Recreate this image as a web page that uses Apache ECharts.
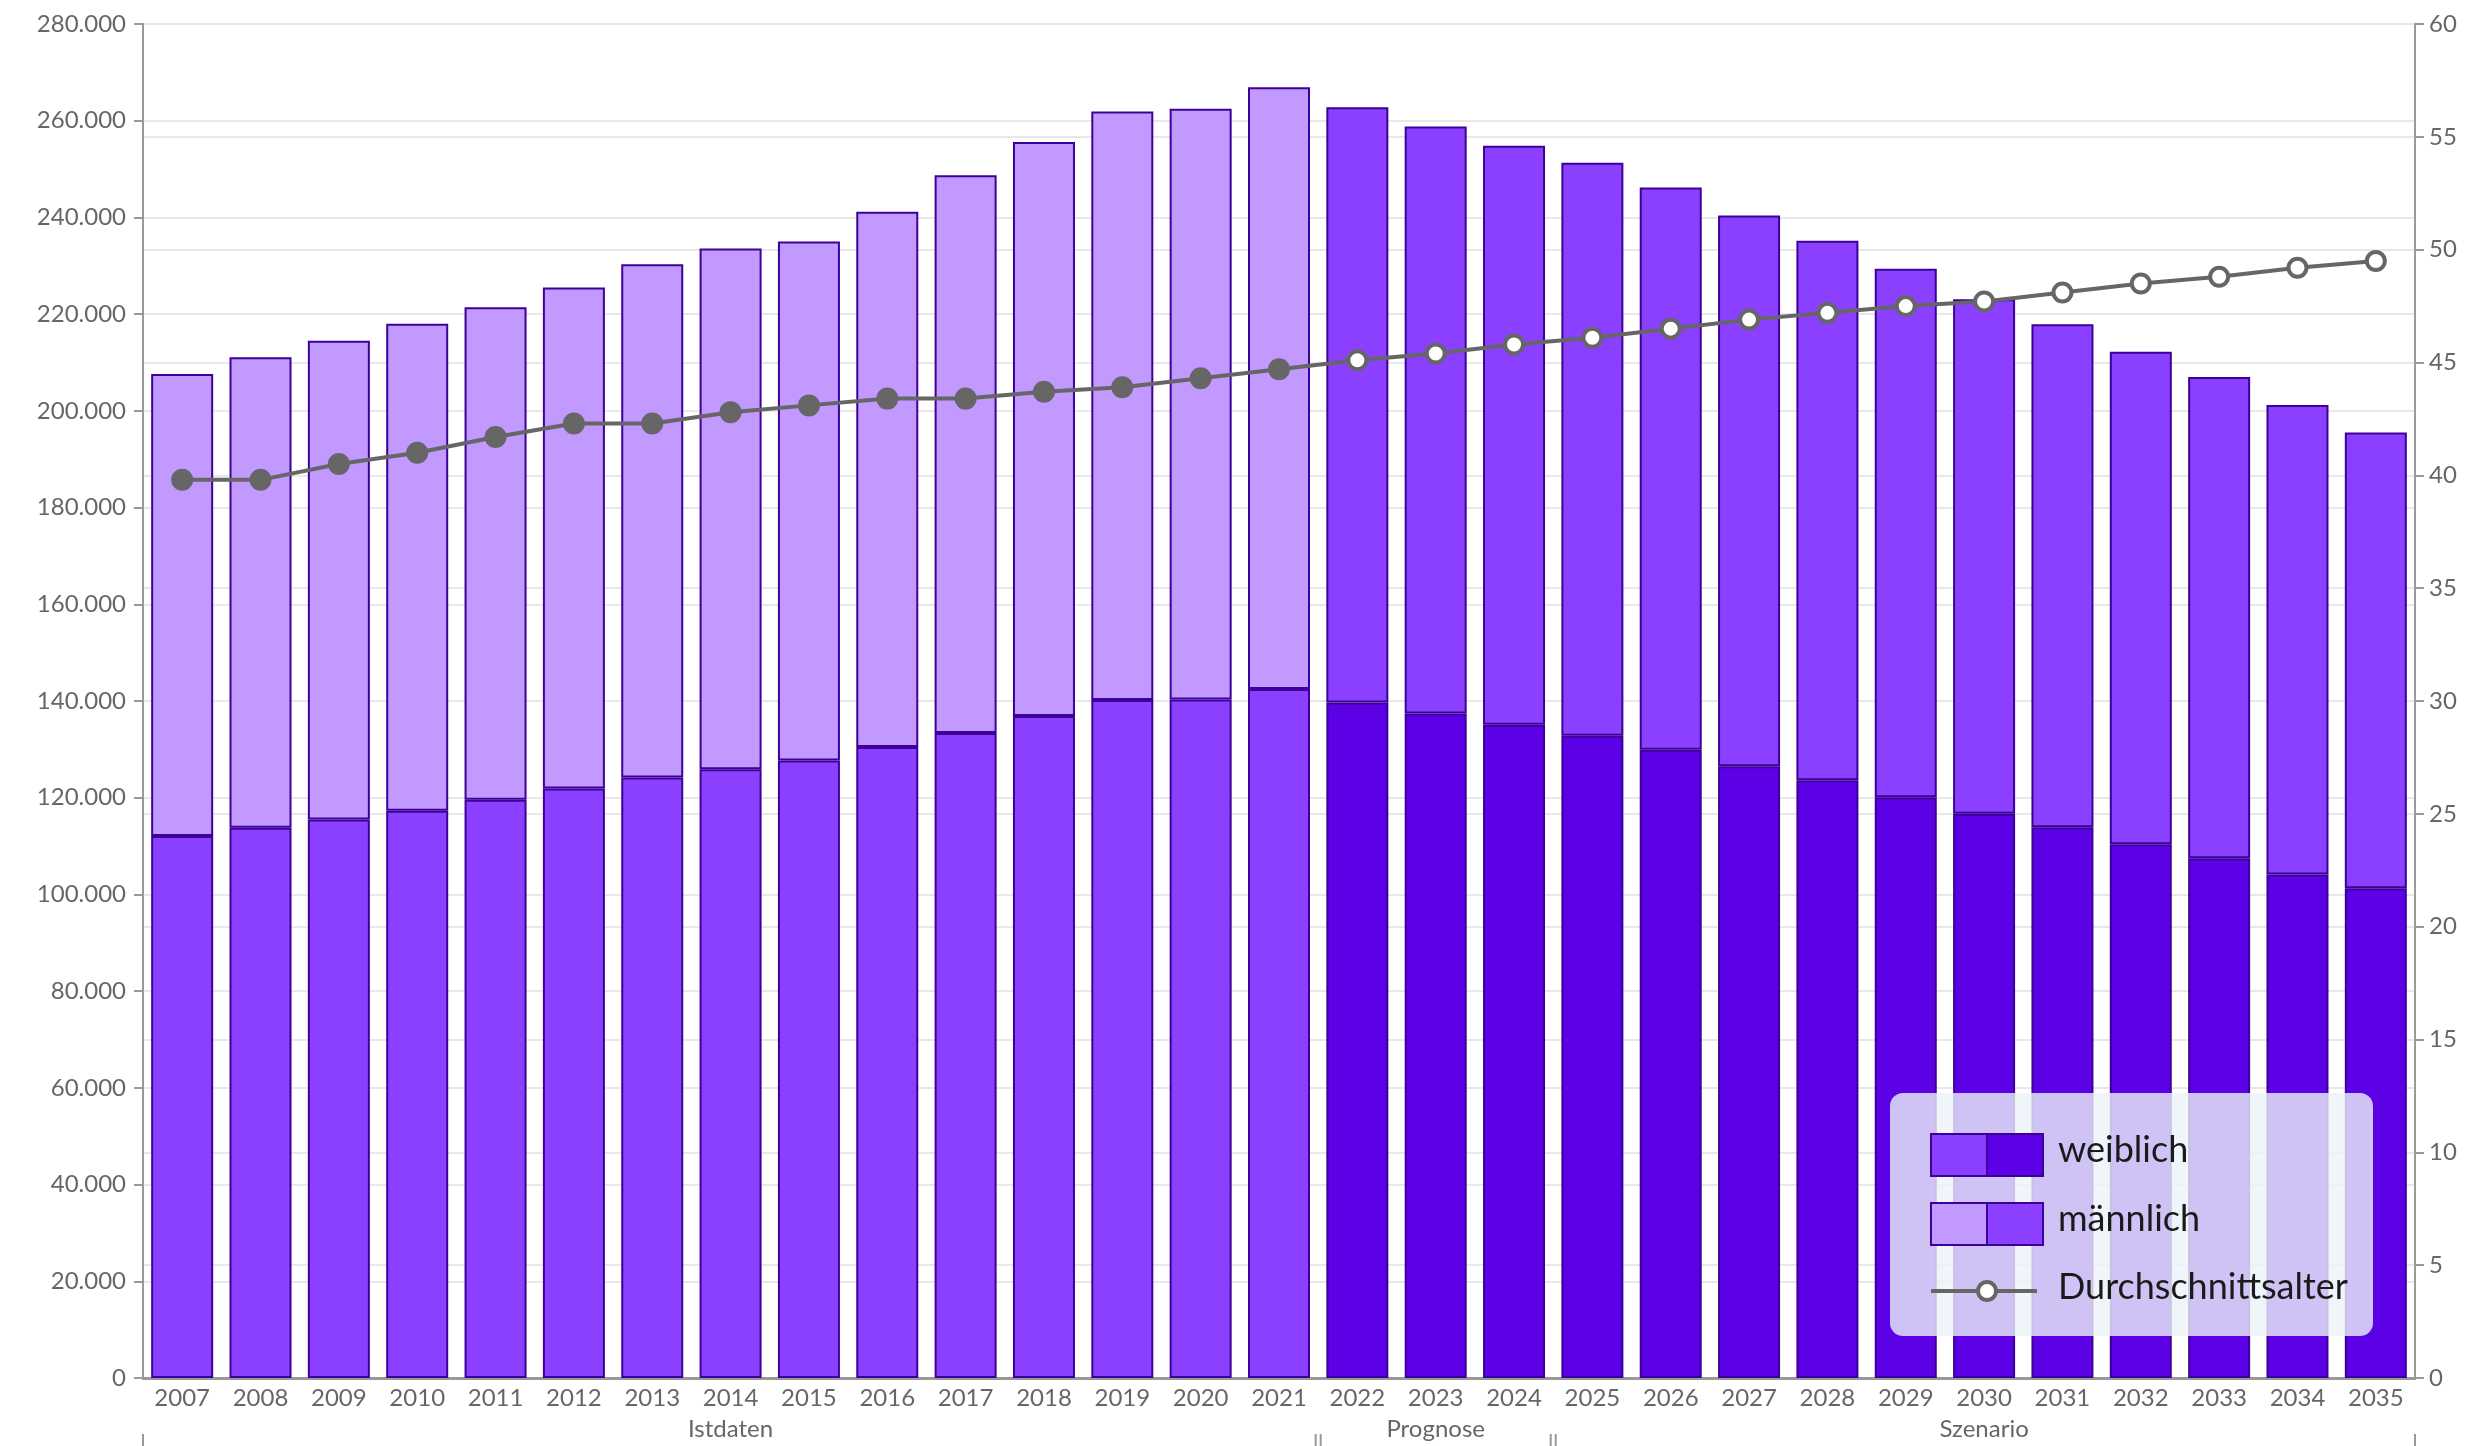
<!DOCTYPE html>
<html>
<head>
<meta charset="utf-8">
<script src="https://cdn.jsdelivr.net/npm/echarts@6/dist/echarts.min.js"></script>
<style>
    html, body { margin: 0; padding: 0; background: #fff; }
    #bevoelkerung { width: 2489px; height: 1446px; }
</style>
</head>
<body>
<div id="bevoelkerung"></div>
<script>
// Jahre (Kategorien)
var jahre = ['2007', '2008', '2009', '2010', '2011', '2012', '2013', '2014', '2015', '2016',
    '2017', '2018', '2019', '2020', '2021', '2022', '2023', '2024', '2025', '2026',
    '2027', '2028', '2029', '2030', '2031', '2032', '2033', '2034', '2035'];

// Einwohner weiblich (unterer Balkenteil)
var weiblich = [112100, 113800, 115500, 117300, 119600, 121900, 124200, 125900, 127700, 130500,
    133400, 136900, 140200, 140300, 142500, 139700, 137400, 135100, 132800, 129900,
    126500, 123600, 120100, 116700, 113900, 110400, 107500, 104100, 101300];

// Einwohner maennlich (oberer Balkenteil)
var maennlich = [95500, 97300, 99000, 100700, 101800, 103600, 106100, 107700, 107300, 110700,
    115300, 118700, 121700, 122200, 124400, 123100, 121400, 119700, 118500, 116300,
    113900, 111600, 109300, 106400, 104000, 101800, 99500, 97100, 94200];

// Durchschnittsalter (rechte Achse)
var durchschnittsalter = [39.8, 39.8, 40.5, 41.0, 41.7, 42.3, 42.3, 42.8, 43.1, 43.4,
    43.4, 43.7, 43.9, 44.3, 44.7, 45.1, 45.4, 45.8, 46.1, 46.5,
    46.9, 47.2, 47.5, 47.7, 48.1, 48.5, 48.8, 49.2, 49.5];

// Abschnitte unter der Achse
var abschnitte = ['Istdaten', 'Prognose', 'Szenario'];
var abschnittStart = [0, 15, 18];   // Index des ersten Jahres
var ersteVorausberechnung = 15;     // ab 2022 dunklere Farben

// Farben
var lila = '#8c40ff';
var hellLila = '#c199ff';
var dunkelLila = '#5c00e6';
var rand = '#3d0099';
var grau = '#666666';

var schrift = 'Lato, "Noto Sans", sans-serif';

// Mitte der Abschnitte (Index) fuer die Beschriftung
var abschnittMitte = {};
abschnittStart.forEach(function (s, i) {
    var ende = i + 1 < abschnittStart.length ? abschnittStart[i + 1] : jahre.length;
    abschnittMitte[(s + ende - 1) / 2] = abschnitte[i];
});

function tausender(v) {
    return String(v).replace(/\B(?=(\d{3})+(?!\d))/g, '.');
}

var myChart = echarts.init(document.getElementById('bevoelkerung'));

var alterDaten = durchschnittsalter.map(function (v, i) {
    if (i < ersteVorausberechnung) {
        return { value: v, itemStyle: { color: grau, borderColor: grau, borderWidth: 4 } };
    }
    return { value: v, itemStyle: { color: '#ffffff', borderColor: grau, borderWidth: 4 } };
});

// Legende (Box mit zweifarbigen Feldern)
var lx = 1890, ly = 1093;
var legende = [
    { type: 'rect', shape: { x: lx, y: ly, width: 483, height: 243, r: 13 },
      style: { fill: 'rgba(236,242,248,0.8)' }, z: 100 },
    { type: 'rect', shape: { x: 1931, y: 1134, width: 56, height: 42 }, style: { fill: lila, stroke: rand, lineWidth: 2 }, z: 101 },
    { type: 'rect', shape: { x: 1987, y: 1134, width: 56, height: 42 }, style: { fill: dunkelLila, stroke: rand, lineWidth: 2 }, z: 101 },
    { type: 'rect', shape: { x: 1931, y: 1203, width: 56, height: 42 }, style: { fill: hellLila, stroke: rand, lineWidth: 2 }, z: 101 },
    { type: 'rect', shape: { x: 1987, y: 1203, width: 56, height: 42 }, style: { fill: lila, stroke: rand, lineWidth: 2 }, z: 101 },
    { type: 'line', shape: { x1: 1931, y1: 1291, x2: 2037, y2: 1291 }, style: { stroke: grau, lineWidth: 4 }, z: 101 },
    { type: 'circle', shape: { cx: 1987, cy: 1291, r: 9 }, style: { fill: '#fff', stroke: grau, lineWidth: 4 }, z: 102 },
    { type: 'text', x: 2058, y: 1150, style: { text: 'weiblich', font: '36px ' + schrift, fill: '#1a1a1a', verticalAlign: 'middle' }, z: 101 },
    { type: 'text', x: 2058, y: 1219, style: { text: 'männlich', font: '36px ' + schrift, fill: '#1a1a1a', verticalAlign: 'middle' }, z: 101 },
    { type: 'text', x: 2058, y: 1287, style: { text: 'Durchschnittsalter', font: '36px ' + schrift, fill: '#1a1a1a', verticalAlign: 'middle' }, z: 101 }
];

var option = {
    backgroundColor: '#ffffff',
    animation: false,
    textStyle: { fontFamily: schrift },
    grid: { left: 143, right: 74, top: 24, bottom: 68, containLabel: false },
    xAxis: [{
        type: 'category',
        data: jahre,
        axisLine: { lineStyle: { color: '#999999', width: 3 } },
        axisTick: { show: false },
        axisLabel: { color: '#666666', fontSize: 24, margin: 8, interval: 0 }
    }, {
        // Istdaten / Prognose / Szenario
        type: 'category',
        data: jahre,
        position: 'bottom',
        offset: 58,
        axisLine: { show: false },
        axisTick: { show: false },
        axisLabel: {
            color: '#666666',
            fontSize: 24,
            margin: -19,
            interval: function (index) { return abschnittMitte[index] !== undefined; },
            formatter: function (v, index) { return abschnittMitte[index] || ''; }
        }
    }],
    yAxis: [{
        type: 'value',
        min: 0,
        max: 280000,
        interval: 20000,
        axisLine: { show: true, lineStyle: { color: '#999999', width: 2 } },
        axisTick: { show: true, length: 9, lineStyle: { color: '#999999', width: 2 } },
        axisLabel: { color: '#666666', fontSize: 24, margin: 17, formatter: tausender },
        splitLine: { lineStyle: { color: '#e8e8e8', width: 2 } }
    }, {
        type: 'value',
        min: 0,
        max: 60,
        interval: 5,
        position: 'right',
        axisLine: { show: true, lineStyle: { color: '#999999', width: 2 } },
        axisTick: { show: true, length: 9, lineStyle: { color: '#999999', width: 2 } },
        axisLabel: { color: '#666666', fontSize: 24, margin: 14 },
        splitLine: { lineStyle: { color: '#e8e8e8', width: 2 } }
    }],
    series: [{
        name: 'weiblich',
        type: 'bar',
        stack: 'einwohner',
        barWidth: 62,
        data: weiblich,
        itemStyle: {
            color: function (p) { return p.dataIndex < ersteVorausberechnung ? lila : dunkelLila; },
            borderColor: rand,
            borderWidth: 2
        }
    }, {
        name: 'männlich',
        type: 'bar',
        stack: 'einwohner',
        barWidth: 62,
        data: maennlich,
        itemStyle: {
            color: function (p) { return p.dataIndex < ersteVorausberechnung ? hellLila : lila; },
            borderColor: rand,
            borderWidth: 2
        }
    }, {
        name: 'Durchschnittsalter',
        type: 'line',
        yAxisIndex: 1,
        z: 5,
        symbol: 'circle',
        symbolSize: 18,
        data: alterDaten,
        lineStyle: { color: grau, width: 4 }
    }],
    graphic: legende
};

myChart.setOption(option);

// Trennstriche der Abschnitte unter der Achse (an den Kategoriegrenzen)
var x0 = myChart.convertToPixel({ xAxisIndex: 0 }, 0);
var x1 = myChart.convertToPixel({ xAxisIndex: 0 }, 1);
var band = x1 - x0;
var grenzen = abschnittStart.concat([jahre.length]);
var striche = [];
grenzen.forEach(function (g, i) {
    var gx = x0 + (g - 0.5) * band;
    var innen = i > 0 && i < grenzen.length - 1;
    var offs = innen ? [-2.5, 2.5] : [0];
    offs.forEach(function (o) {
        striche.push({
            type: 'line',
            shape: { x1: gx + o, y1: 1434, x2: gx + o, y2: 1446 },
            style: { stroke: '#999999', lineWidth: 2 },
            z: 50
        });
    });
});
myChart.setOption({ graphic: legende.concat(striche) });
</script>
</body>
</html>
